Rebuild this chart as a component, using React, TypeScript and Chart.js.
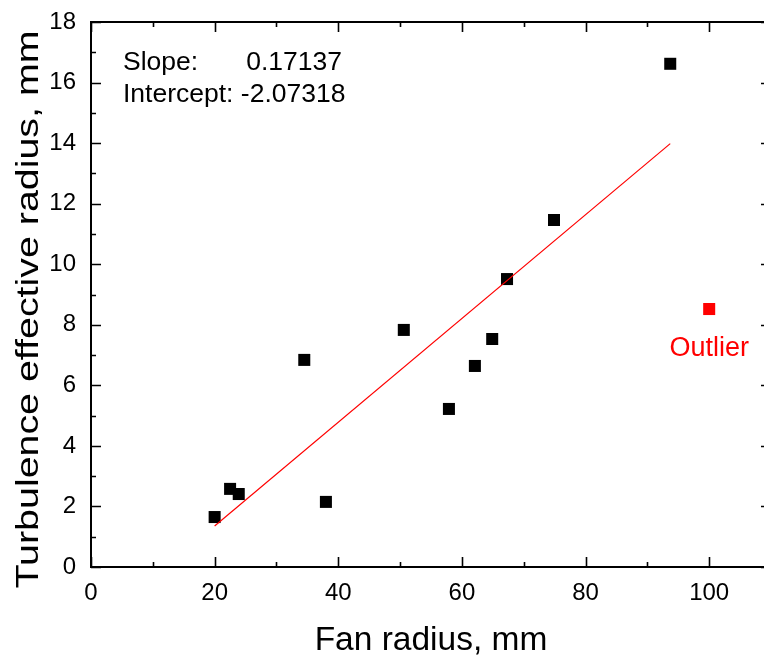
import { useEffect, useRef } from "react";
import { Chart, registerables } from "chart.js";

Chart.register(...registerables);

// Data
const fanRadius = [20, 22.5, 23.9, 34.5, 38.0, 50.6, 57.9, 62.1, 64.9, 67.3, 74.9, 93.7];
const effRadius = [1.65, 2.58, 2.41, 6.84, 2.15, 7.83, 5.22, 6.64, 7.53, 9.51, 11.46, 16.62];
const outlierX = [100];
const outlierY = [8.52];
const slope = 0.17137;
const intercept = -2.07318;
const fitRangeX = [20, 93.7];
const xMinorStep = 10;
const yMinorStep = 1;
const xTitle = "Fan radius, mm";
const yTitle = "Turbulence effective radius, mm";

const FONT = "'Liberation Sans', Arial, Helvetica, sans-serif";

const framePlugin = {
  id: "frameTicks",
  afterDraw(chart: any) {
    const { ctx, chartArea: a, scales } = chart;
    const x = scales.x;
    const y = scales.y;
    ctx.save();
    ctx.strokeStyle = "#000";
    ctx.lineWidth = 2;
    ctx.strokeRect(a.left, a.top, a.right - a.left, a.bottom - a.top);
    ctx.lineWidth = 1.6;
    ctx.beginPath();
    for (let v = x.min; v <= x.max + 1e-9; v += xMinorStep) {
      const px = Math.round(x.getPixelForValue(v)) + 0.5;
      const len = Math.round(v) % 20 === 0 ? 10 : 5;
      ctx.moveTo(px, a.bottom);
      ctx.lineTo(px, a.bottom - len);
      ctx.moveTo(px, a.top);
      ctx.lineTo(px, a.top + len);
    }
    for (let v = y.min; v <= y.max + 1e-9; v += yMinorStep) {
      const py = Math.round(y.getPixelForValue(v)) + 0.5;
      const len = Math.round(v) % 2 === 0 ? 10 : 5;
      ctx.moveTo(a.left, py);
      ctx.lineTo(a.left + len, py);
      ctx.moveTo(a.right, py);
      ctx.lineTo(a.right - len, py);
    }
    ctx.stroke();

    // fit annotation
    ctx.fillStyle = "#000";
    ctx.font = `26.5px ${FONT}`;
    ctx.textBaseline = "middle";
    ctx.textAlign = "left";
    ctx.fillText("Slope:", a.left + 32, a.top + 41);
    ctx.textAlign = "right";
    ctx.fillText(slope.toFixed(5), a.left + 251, a.top + 41);
    ctx.textAlign = "left";
    ctx.fillText(`Intercept: ${intercept.toFixed(5)}`, a.left + 32, a.top + 73);

    // outlier label
    ctx.fillStyle = "#ff0000";
    ctx.textAlign = "center";
    ctx.font = `27px ${FONT}`;
    ctx.fillText(
      "Outlier",
      x.getPixelForValue(outlierX[0]),
      y.getPixelForValue(outlierY[0]) + 40
    );

    // y axis title (stretched along its length like the reference)
    ctx.fillStyle = "#000";
    ctx.font = `31px ${FONT}`;
    ctx.translate(29, (a.top + a.bottom) / 2 + 15);
    ctx.rotate(-Math.PI / 2);
    ctx.scale(1.27, 1);
    ctx.textAlign = "center";
    ctx.textBaseline = "middle";
    ctx.fillText(yTitle, 0, 0);
    ctx.restore();
  },
};

export default function App() {
  const canvasRef = useRef<HTMLCanvasElement | null>(null);

  useEffect(() => {
    if (!canvasRef.current) return;
    const mainPts = fanRadius.map((v, i) => ({ x: v, y: effRadius[i] }));
    const outPts = outlierX.map((v, i) => ({ x: v, y: outlierY[i] }));
    const fitPts = fitRangeX.map((v) => ({ x: v, y: slope * v + intercept }));

    const chart = new Chart(canvasRef.current, {
      type: "scatter",
      data: {
        datasets: [
          {
            label: "fit",
            data: fitPts,
            showLine: true,
            borderColor: "#ff0000",
            borderWidth: 1.2,
            pointRadius: 0,
            order: 0,
          },
          {
            label: "data",
            data: mainPts,
            pointStyle: "rect",
            pointRadius: 8.5,
            backgroundColor: "#000",
            borderColor: "#000",
            borderWidth: 0,
            order: 1,
          },
          {
            label: "outlier",
            data: outPts,
            pointStyle: "rect",
            pointRadius: 8.5,
            backgroundColor: "#ff0000",
            borderColor: "#ff0000",
            borderWidth: 0,
            order: 2,
          },
        ],
      },
      options: {
        responsive: false,
        animation: false,
        devicePixelRatio: 1,
        layout: { padding: { top: 22, right: 9, bottom: 0, left: 0 } },
        plugins: {
          legend: { display: false },
          tooltip: { enabled: false },
        },
        scales: {
          x: {
            type: "linear",
            min: 0,
            max: 110,
            grid: { display: false },
            border: { display: false },
            ticks: {
              stepSize: 20,
              includeBounds: false,
              color: "#000",
              padding: 4,
              font: { family: FONT, size: 24 },
            },
            title: {
              display: true,
              text: xTitle,
              color: "#000",
              font: { family: FONT, size: 33.5, lineHeight: 0.7 },
            },
            afterFit: (s: any) => {
              s.height = 89;
              s.paddingLeft = 0;
              s.paddingRight = 0;
            },
          },
          y: {
            type: "linear",
            min: 0,
            max: 18,
            grid: { display: false },
            border: { display: false },
            ticks: {
              stepSize: 2,
              color: "#000",
              padding: 7,
              font: { family: FONT, size: 24 },
            },
            title: { display: false },
            afterFit: (s: any) => {
              s.width = 91;
              s.paddingTop = 0;
              s.paddingBottom = 0;
            },
          },
        },
      },
      plugins: [framePlugin],
    });
    return () => chart.destroy();
  }, []);

  return (
    <div
      style={{
        position: "absolute",
        left: 0,
        top: 0,
        width: 764,
        height: 656,
        overflow: "hidden",
        background: "#fff",
      }}
    >
      <canvas ref={canvasRef} width={780} height={656} style={{ display: "block" }} />
    </div>
  );
}
